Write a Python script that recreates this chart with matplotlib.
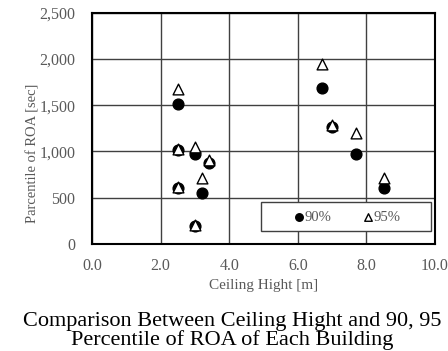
import matplotlib.pyplot as plt
from matplotlib.patches import Rectangle
from matplotlib.ticker import FuncFormatter

plt.rcParams['font.family'] = ['Liberation Serif', 'DejaVu Serif']

# ceiling height [m] and percentile of ROA [sec]
height = [2.5, 2.5, 3.0, 3.4, 2.5, 3.2, 3.0, 6.7, 7.0, 7.7, 8.5]
p90 = [1510, 1020, 975, 870, 600, 555, 190, 1690, 1265, 975, 610]
p95 = [1670, 1030, 1050, 910, 620, 710, 200, 1950, 1290, 1200, 710]

fig = plt.figure(figsize=(4.48, 3.51), dpi=100)
ax = fig.add_axes([0.2054, 0.305, 0.7656, 0.659])

ax.scatter(height, p90, s=60, c='black', marker='o', label='90%', zorder=3)
ax.scatter(height, p95, s=60, facecolors='white', edgecolors='black',
           marker='^', linewidths=1.0, label='95%', zorder=4)

ax.set_xlim(0, 10)
ax.set_ylim(0, 2500)
ax.set_xticks([0, 2, 4, 6, 8, 10])
ax.set_yticks([0, 500, 1000, 1500, 2000, 2500])
ax.xaxis.set_major_formatter(FuncFormatter(lambda v, p: f'{v:.1f}'))
ax.yaxis.set_major_formatter(FuncFormatter(lambda v, p: f'{v:,.0f}'))
ax.grid(True, color='#404040', linewidth=1.0)
ax.set_axisbelow(True)
for s in ax.spines.values():
    s.set_linewidth(1.5)
    s.set_color('black')

grey = '#595959'
ax.tick_params(length=0, labelsize=11.5, labelcolor=grey)
ax.tick_params(axis='x', pad=10)
ax.tick_params(axis='y', pad=12)
ax.set_xlabel('Ceiling Hight [m]', fontsize=11, color=grey, labelpad=4)
ax.set_ylabel('Parcentile of ROA [sec]', fontsize=10.5, color=grey)
ax.yaxis.set_label_coords(-0.152, 0.39)

# legend box (white, framed) with the legend entries centred in it
ax.add_patch(Rectangle((0.494, 0.056), 0.494, 0.125, transform=ax.transAxes,
                       facecolor='white', edgecolor='#404040', linewidth=1.0,
                       zorder=5))
leg = ax.legend(loc='center', ncol=2, bbox_to_anchor=(0.745, 0.115),
                fontsize=10.5, frameon=False, borderpad=0,
                handletextpad=0.05, columnspacing=2.2, markerscale=0.7,
                handlelength=0.6)
leg.set_zorder(6)
for t in leg.get_texts():
    t.set_color(grey)

fig.text(0.518, 0.058, 'Comparison Between Ceiling Hight and 90, 95\nPercentile of ROA of Each Building',
         ha='center', va='center', fontsize=16, linespacing=0.95)

fig.savefig('out.png', dpi=100)
